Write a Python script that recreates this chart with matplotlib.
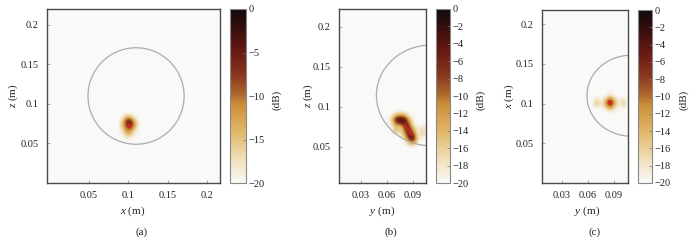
import numpy as np
import matplotlib
matplotlib.use("Agg")
import matplotlib.pyplot as plt
from matplotlib.colors import LinearSegmentedColormap
from matplotlib.patches import Circle

plt.rcParams['font.family'] = ['Liberation Serif', 'DejaVu Serif']
plt.rcParams['mathtext.fontset'] = 'custom'
plt.rcParams['mathtext.rm'] = 'Liberation Serif'
plt.rcParams['mathtext.it'] = 'Liberation Serif:italic'

# ---------------- data ----------------
# panel (a): x-z plane
a_xg = [0.088, 0.093, 0.098, 0.103, 0.108, 0.113]
a_zg = [0.054, 0.059, 0.064, 0.069, 0.074, 0.079, 0.084, 0.089]
a_db = [
    [-20, -20, -20, -20, -20, -20],
    [-20, -20, -16, -17, -20, -20],
    [-20, -18, -12, -13, -19, -20],
    [-20, -15, -9, -8, -15, -20],
    [-20, -13, -6, -5, -12, -20],
    [-20, -16, -6, -7, -16, -20],
    [-20, -20, -15, -17, -20, -20],
    [-20, -20, -20, -20, -20, -20],
]
a_target = ([0.1015], [0.0725])
a_circle = (0.11, 0.11, 0.061)

# panel (b): y-z plane
b_xg = [0.060, 0.065, 0.070, 0.075, 0.080, 0.085, 0.090, 0.095, 0.100, 0.105]
b_zg = [0.050, 0.055, 0.060, 0.065, 0.070, 0.075, 0.080, 0.085, 0.090, 0.095]
b_db = [
    [-20, -20, -20, -20, -20, -20, -20, -20, -20, -20],
    [-20, -20, -20, -20, -20, -14, -12, -20, -20, -20],
    [-20, -20, -20, -20, -18, -6, -4, -18, -20, -20],
    [-20, -20, -20, -20, -12, -4, -6, -20, -16, -20],
    [-20, -20, -12, -18, -9, -5, -12, -20, -15, -20],
    [-20, -20, -14, -18, -6, -6, -16, -20, -17, -20],
    [-20, -18, -9, -5, -4, -10, -20, -20, -20, -20],
    [-20, -16, -4, -3, -4, -14, -20, -20, -20, -20],
    [-20, -20, -14, -12, -14, -20, -20, -20, -20, -20],
    [-20, -20, -20, -20, -20, -20, -20, -20, -20, -20],
]
b_target = ([0.080, 0.0845, 0.088], [0.0775, 0.072, 0.065])
b_circle = (0.111, 0.1145, 0.063)

# panel (c): y-x plane
c_xg = [0.060, 0.065, 0.070, 0.075, 0.080, 0.085, 0.090, 0.095, 0.100, 0.105]
c_zg = [0.090, 0.095, 0.100, 0.105, 0.110, 0.115]
c_db = [
    [-20, -20, -20, -20, -20, -20, -20, -20, -20, -20],
    [-20, -20, -20, -20, -18, -11, -18, -20, -20, -20],
    [-20, -20, -13, -20, -12, -5, -12, -20, -14, -20],
    [-20, -20, -16, -20, -14, -6, -14, -20, -17, -20],
    [-20, -20, -20, -20, -20, -16, -20, -20, -20, -20],
    [-20, -20, -20, -20, -20, -20, -20, -20, -20, -20],
]
c_target = ([0.0855], [0.1015])
c_circle = (0.11, 0.11, 0.051)

a_xticks = [0.05, 0.1, 0.15, 0.2]
a_xticklabels = ['0.05', '0.1', '0.15', '0.2']
yticks = [0.05, 0.1, 0.15, 0.2]
yticklabels = ['0.05', '0.1', '0.15', '0.2']
bc_xticks = [0.03, 0.06, 0.09]
bc_xticklabels = ['0.03', '0.06', '0.09']
a_cticks = [0, -5, -10, -15, -20]
bc_cticks = [0, -2, -4, -6, -8, -10, -12, -14, -16, -18, -20]

# ---------------- style ----------------
BG = '#f9f9f8'
cmap = LinearSegmentedColormap.from_list('solar', [
    (0.00, BG),
    (0.15, '#efdcb2'),
    (0.30, '#e0b666'),
    (0.45, '#cc8f3a'),
    (0.52, '#a9632a'),
    (0.62, '#8a3620'),
    (0.75, '#6a1a14'),
    (0.88, '#3a0f0c'),
    (1.00, '#0e0b0b'),
])

W, H = 696, 244
fig = plt.figure(figsize=(W / 100, H / 100), dpi=100)


def px_axes(x0, y0, x1, y1):
    return fig.add_axes([x0 / W, 1 - y1 / H, (x1 - x0) / W, (y1 - y0) / H])


FS = 7.5
frame_c = '#4a4a4a'


def panel(box, cbox, xg, zg, db, target, circ, xlim, ylim, xticks, xtl,
          cticks, xlabel, ylabel, ylabx, cblabx, xlabx, tag, tagx, target_line=False):
    ax = px_axes(*box)
    ax.set_facecolor(BG)
    xg = np.asarray(xg); zg = np.asarray(zg)
    dx = xg[1] - xg[0]; dz = zg[1] - zg[0]
    im = ax.imshow(np.asarray(db, float), origin='lower', cmap=cmap, vmin=-20, vmax=0,
                   extent=[xg[0] - dx / 2, xg[-1] + dx / 2, zg[0] - dz / 2, zg[-1] + dz / 2],
                   interpolation='bicubic', aspect='auto', zorder=1)
    if target_line:
        ax.plot(target[0], target[1], color='#d8201a', lw=1.6, alpha=0.85,
                solid_capstyle='round', zorder=3)
    else:
        ax.scatter(target[0], target[1], s=12, color='#d8201a', alpha=0.8,
                   edgecolors='none', zorder=3)
    ax.add_patch(Circle((circ[0], circ[1]), circ[2], fill=False, ec='#ababab', lw=0.9,
                        zorder=2))
    ax.set_xlim(*xlim)
    ax.set_ylim(*ylim)
    ax.set_xticks(xticks)
    ax.set_xticklabels(xtl)
    ax.set_yticks(yticks)
    ax.set_yticklabels(yticklabels)
    ax.tick_params(direction='in', length=2, width=0.5, color='#888888',
                   labelsize=FS, pad=6, labelcolor='#222222')
    for s in ax.spines.values():
        s.set_color(frame_c)
        s.set_linewidth(1.0)
    cax = px_axes(*cbox)
    cb = fig.colorbar(im, cax=cax, ticks=cticks)
    cb.outline.set_edgecolor('#888888')
    cb.outline.set_linewidth(0.8)
    cax.tick_params(direction='in', length=2, width=0.5, color='#777777',
                    labelsize=FS, pad=2, labelcolor='#222222')
    fig.text(cblabx / W, 1 - 100 / H, '(dB)', rotation=90, ha='center', va='center',
             fontsize=8, color='#222222')
    fig.text(ylabx / W, 1 - 96 / H, ylabel, rotation=90, ha='center', va='center',
             fontsize=8, color='#222222')
    fig.text(xlabx / W, 1 - 211 / H, xlabel, ha='center', va='center', fontsize=8,
             color='#222222')
    fig.text(tagx / W, 1 - 232 / H, tag, ha='center', va='center', fontsize=8,
             color='#222222')


panel((47, 9, 220, 183), (230, 9, 246, 183), a_xg, a_zg, a_db, a_target, a_circle,
      (-0.003, 0.2165), (0.0, 0.22), a_xticks, a_xticklabels, a_cticks,
      r'$x$ (m)', r'$z$ (m)', 13, 277, 133, '(a)', 142)
panel((339, 9, 426, 183), (436, 9, 450, 183), b_xg, b_zg, b_db, b_target, b_circle,
      (0.005, 0.105), (0.005, 0.2225), bc_xticks, bc_xticklabels, bc_cticks,
      r'$y$ (m)', r'$z$ (m)', 308, 481, 382, '(b)', 391, target_line=True)
panel((542, 10, 628, 183), (638, 10, 652, 183), c_xg, c_zg, c_db, c_target, c_circle,
      (0.007, 0.1065), (0.0, 0.218), bc_xticks, bc_xticklabels, bc_cticks,
      r'$y$ (m)', r'$x$ (m)', 509, 684, 587, '(c)', 595)

fig.savefig('out.png', dpi=100, facecolor='white')
